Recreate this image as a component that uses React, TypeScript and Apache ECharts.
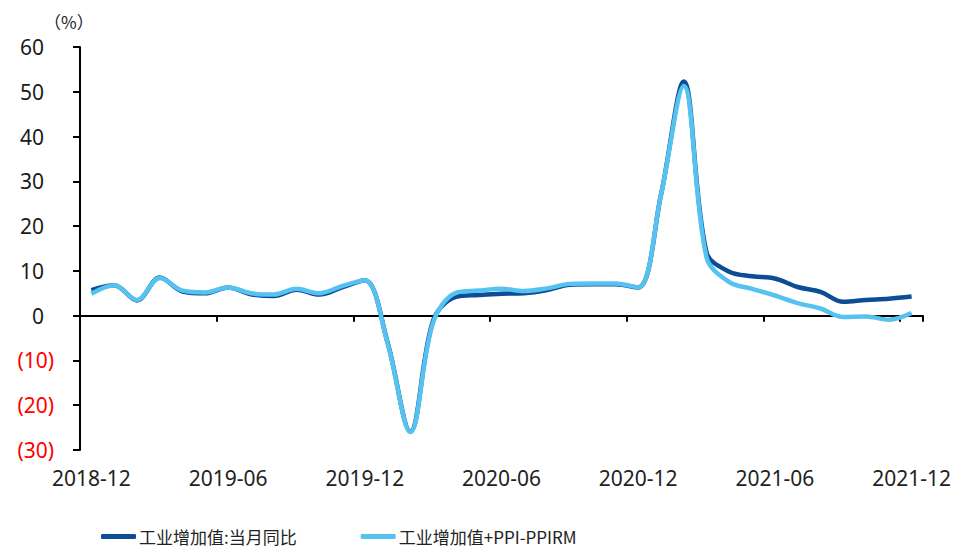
import React, { useEffect, useRef } from "react";
import * as echarts from "echarts";

const months = [
  "2018-12", "2019-01", "2019-02", "2019-03", "2019-04", "2019-05", "2019-06",
  "2019-07", "2019-08", "2019-09", "2019-10", "2019-11", "2019-12",
  "2020-01", "2020-02", "2020-03", "2020-04", "2020-05", "2020-06",
  "2020-07", "2020-08", "2020-09", "2020-10", "2020-11", "2020-12",
  "2021-01", "2021-02", "2021-03", "2021-04", "2021-05", "2021-06",
  "2021-07", "2021-08", "2021-09", "2021-10", "2021-11", "2021-12",
];

const iavYoY = [
  5.7, 6.8, 3.4, 8.5, 5.4, 5.0, 6.3, 4.8, 4.4, 5.8, 4.7, 6.3, 7.9,
  -6.0, -25.9, -1.1, 4.2, 4.6, 4.9, 5.0, 5.7, 6.9, 7.0, 7.0, 6.3,
  27.0, 52.3, 14.1, 9.8, 8.8, 8.3, 6.4, 5.3, 3.1, 3.5, 3.8, 4.3,
];

const iavPlusSpread = [
  4.9, 6.8, 3.5, 8.4, 5.6, 5.2, 6.3, 5.0, 4.7, 6.0, 5.0, 6.6, 7.9,
  -6.2, -26.0, -1.5, 5.1, 5.6, 6.0, 5.5, 6.1, 7.1, 7.2, 7.2, 6.3,
  27.0, 51.3, 13.0, 7.5, 6.0, 4.5, 2.8, 1.6, -0.3, -0.2, -0.9, 0.6,
];

const seriesNames = ["工业增加值:当月同比", "工业增加值+PPI-PPIRM"];
const unitLabel = "（%）";

export default function App() {
  const ref = useRef<HTMLDivElement>(null);

  useEffect(() => {
    if (!ref.current) return;
    const chart = echarts.init(ref.current, null, { renderer: "svg" });
    const font = "'Noto Sans', 'Liberation Sans', sans-serif";
    chart.setOption({
      animation: false,
      backgroundColor: "#ffffff",
      grid: { left: 80, right: 50, top: 47, bottom: 104, containLabel: false },
      graphic: [
        {
          type: "text",
          left: 44,
          top: 13,
          style: {
            text: unitLabel,
            fontSize: 17,
            fontFamily: "'Noto Sans CJK SC', sans-serif",
            fill: "#222",
          },
        },
      ],
      legend: {
        left: 96,
        top: 523,
        itemWidth: 35,
        itemHeight: 5,
        itemGap: 64,
        icon: "roundRect",
        textStyle: {
          fontSize: 17,
          fontFamily: "'Noto Sans CJK SC', sans-serif",
          color: "#222",
          padding: [0, 0, 0, -2],
        },
        data: seriesNames,
      },
      xAxis: [
        {
          type: "category",
          data: months,
          boundaryGap: true,
          axisLine: { onZero: true, lineStyle: { color: "#000", width: 2 } },
          axisTick: { show: true, interval: 5, length: 6, lineStyle: { color: "#000", width: 2 } },
          axisLabel: { show: false },
          splitLine: { show: false },
        },
        {
          type: "category",
          data: months,
          position: "bottom",
          boundaryGap: true,
          axisLine: { show: false, onZero: false },
          axisTick: { show: false },
          axisLabel: {
            show: true,
            interval: 5,
            margin: 17,
            fontSize: 21,
            fontFamily: font,
            color: "#222",
          },
          splitLine: { show: false },
        },
      ],
      yAxis: {
        type: "value",
        min: -30,
        max: 60,
        interval: 10,
        axisLine: { show: true, lineStyle: { color: "#000", width: 2 } },
        axisTick: { show: true, length: 7, lineStyle: { color: "#000", width: 2 } },
        splitLine: { show: false },
        axisLabel: {
          margin: 26,
          formatter: (v: number) => (v < 0 ? `{n|(${-v})}` : `{p|${v}}`),
          rich: {
            n: { color: "#ff0000", fontSize: 21, fontFamily: font },
            p: { color: "#1a1a1a", fontSize: 21, fontFamily: font, padding: [0, 10, 0, 0] },
          },
        },
      },
      series: [
        {
          name: seriesNames[0],
          type: "line",
          data: iavYoY,
          xAxisIndex: 0,
          smooth: 0.35,
          showSymbol: false,
          symbol: "none",
          lineStyle: { color: "#0c4d96", width: 4.5 },
          itemStyle: { color: "#0c4d96" },
        },
        {
          name: seriesNames[1],
          type: "line",
          data: iavPlusSpread,
          xAxisIndex: 0,
          smooth: 0.35,
          showSymbol: false,
          symbol: "none",
          lineStyle: { color: "#55c2f0", width: 4.5 },
          itemStyle: { color: "#55c2f0" },
        },
      ],
    });
    return () => chart.dispose();
  }, []);

  return <div ref={ref} style={{ width: 973, height: 554, position: "absolute", left: 0, top: 0 }} />;
}
